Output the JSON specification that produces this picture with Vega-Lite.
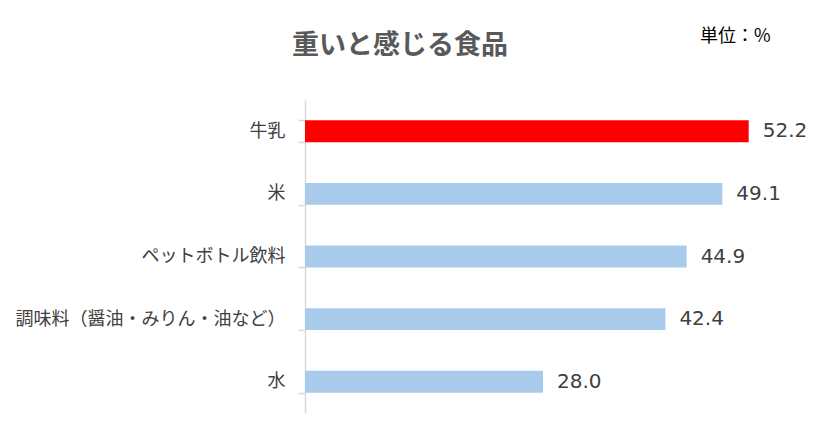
{
  "$schema": "https://vega.github.io/schema/vega-lite/v6.json",
  "autosize": "none",
  "width": 510,
  "height": 313,
  "padding": {"left": 305, "top": 100, "right": 25, "bottom": 28},
  "background": "white",
  "config": {"view": {"stroke": null}},
  "title": {
    "text": "重いと感じる食品",
    "font": "Noto Sans CJK JP",
    "fontSize": 27,
    "fontWeight": "bold",
    "color": "#595959",
    "anchor": "start",
    "frame": "group",
    "dx": -13,
    "dy": 43,
    "offset": 10
  },
  "data": {
    "values": [
      {"food": "牛乳", "value": 52.2, "hl": "yes"},
      {"food": "米", "value": 49.1, "hl": "no"},
      {"food": "ペットボトル飲料", "value": 44.9, "hl": "no"},
      {"food": "調味料（醤油・みりん・油など）", "value": 42.4, "hl": "no"},
      {"food": "水", "value": 28.0, "hl": "no"}
    ]
  },
  "encoding": {
    "y": {
      "field": "food",
      "type": "nominal",
      "sort": null,
      "scale": {"paddingInner": 0.65, "paddingOuter": 0.325},
      "axis": {
        "title": null,
        "domainColor": "#D9D9D9",
        "domainWidth": 1.5,
        "tickColor": "#D9D9D9",
        "tickWidth": 1.5,
        "tickSize": 7,
        "tickBand": "extent",
        "labelPadding": 13,
        "labelFont": "Noto Sans CJK JP",
        "labelFontSize": 18,
        "labelColor": "#404040",
        "labelLimit": 400
      }
    },
    "x": {
      "field": "value",
      "type": "quantitative",
      "scale": {"domain": [0, 60]},
      "axis": {
        "orient": "top",
        "title": "単位：%",
        "titleFont": "Noto Sans CJK JP",
        "titleFontSize": 18,
        "titleFontWeight": "normal",
        "titleColor": "#000000",
        "titleAnchor": "end",
        "titleAlign": "right",
        "titleX": 465,
        "titleY": -55,
        "domain": false,
        "ticks": false,
        "labels": false,
        "grid": false
      }
    }
  },
  "layer": [
    {
      "mark": {"type": "bar"},
      "encoding": {
        "color": {
          "field": "hl",
          "type": "nominal",
          "scale": {"domain": ["yes", "no"], "range": ["#FF0000", "#A9CBEB"]},
          "legend": null
        }
      }
    },
    {
      "mark": {"type": "text", "align": "left", "baseline": "middle", "dx": 14, "font": "DejaVu Sans", "fontSize": 20, "color": "#404040"},
      "encoding": {
        "text": {"field": "value", "type": "quantitative", "format": ".1f"}
      }
    }
  ]
}
